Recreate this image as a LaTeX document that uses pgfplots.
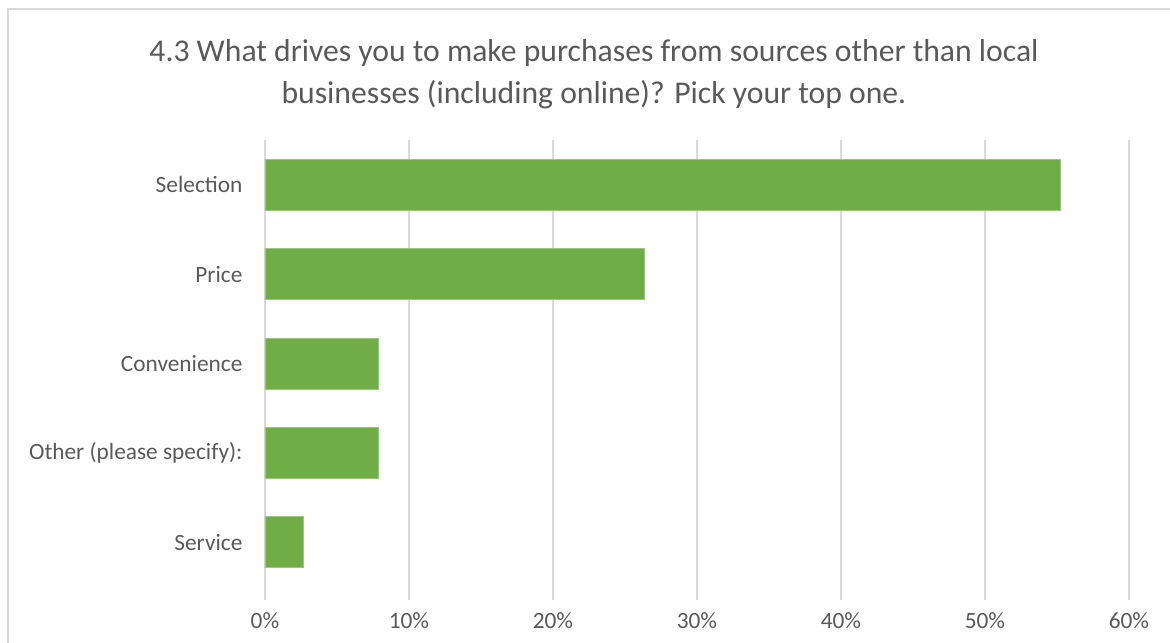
\documentclass[border=0pt]{standalone}
\usepackage{fontspec}
\setmainfont{Carlito}
\usepackage{pgfplots}
\pgfplotsset{compat=1.18}
\definecolor{bargreen}{HTML}{70AD47}
\definecolor{txtgray}{HTML}{595959}
\definecolor{gridgray}{HTML}{D9D9D9}
\begin{document}
\begin{tikzpicture}[x=0.6pt,y=0.6pt]
\useasboundingbox (0,0) rectangle (1170,643);
\draw[gridgray, line width=0.9pt] (8,-20) rectangle (1190,634);
\node[txtgray, font=\fontsize{19}{25.2}\selectfont, align=center] at (594,569)
  {4.3 What drives you to make purchases from sources other than local\\businesses (including online)? Pick your top one.};
\begin{axis}[
    at={(159pt,33.6pt)}, anchor=south west,
    scale only axis,
    width=518.4pt, height=268.2pt,
    xbar,
    bar width=0.57,
    xmin=0, xmax=60,
    ymin=-0.5, ymax=4.5,
    xtick={0,10,...,60},
    xticklabel={\pgfmathprintnumber{\tick}\%},
    ytick={0,1,2,3,4},
    yticklabels={Service,Other (please specify):,Convenience,Price,Selection},
    axis line style={draw=none},
    xmajorgrids,
    grid style={gridgray, line width=0.9pt},
    tick align=outside,
    major tick length=8pt,
    x tick style={gridgray, line width=0.9pt},
    y tick style={draw=none},
    xtick pos=bottom,
    ytick pos=left,
    tick label style={txtgray, font=\fontsize{14}{16}\selectfont},
    /pgf/number format/assume math mode=true,
    yticklabel style={xshift=-2pt},
    xticklabel style={yshift=-4pt},
]
\addplot[fill=bargreen, draw=bargreen!70!white, line width=0.4pt] coordinates {
    (2.63,0) (7.89,1) (7.89,2) (26.32,3) (55.26,4)
};
\end{axis}
\end{tikzpicture}
\end{document}
